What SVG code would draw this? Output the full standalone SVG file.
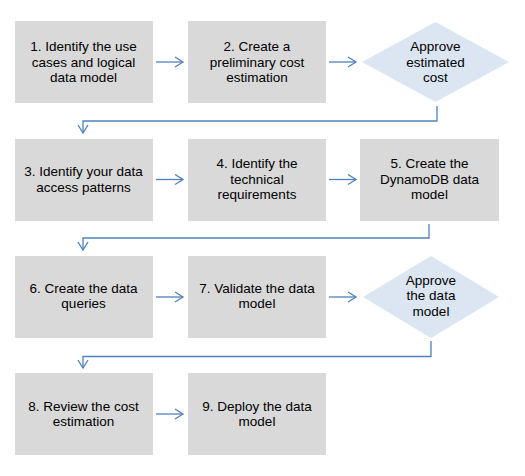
<svg xmlns="http://www.w3.org/2000/svg" width="525" height="476" viewBox="0 0 525 476">
<style>
.box{fill:#d9d9d9}
.dia{fill:#dce6f2}
.t{font-family:"Liberation Sans",Arial,sans-serif;font-size:13.5px;fill:#000;text-anchor:middle}
.c{fill:none;stroke:#4f81bd;stroke-width:1.3}
</style>
<defs>
<marker id="ah" markerUnits="userSpaceOnUse" markerWidth="12" markerHeight="14" refX="9" refY="6" orient="auto">
<path d="M1,1 L9,6 L1,11" fill="none" stroke="#4f81bd" stroke-width="1.3"/>
</marker>
</defs>
<rect width="525" height="476" fill="#fff"/>
<g id="connectors">
<path class="c" d="M156,62 H183" marker-end="url(#ah)"/>
<path class="c" d="M329,62 H356" marker-end="url(#ah)"/>
<path class="c" d="M437,106 V121 H83 V133" marker-end="url(#ah)"/>
<path class="c" d="M156,179.5 H183" marker-end="url(#ah)"/>
<path class="c" d="M329,179.5 H356" marker-end="url(#ah)"/>
<path class="c" d="M429,224 V238 H83 V250" marker-end="url(#ah)"/>
<path class="c" d="M156,297 H183" marker-end="url(#ah)"/>
<path class="c" d="M329,297 H356" marker-end="url(#ah)"/>
<path class="c" d="M431,341 V356.5 H83 V368" marker-end="url(#ah)"/>
<path class="c" d="M156,414 H183" marker-end="url(#ah)"/>
</g>
<g id="n1"><rect class="box" x="15" y="21" width="138" height="82"/>
<text class="t"><tspan x="83.5" y="51">1. Identify the use</tspan><tspan x="83.5" y="66.7">cases and logical</tspan><tspan x="83.5" y="82.4">data model</tspan></text></g>
<g id="n2"><rect class="box" x="188" y="21" width="138" height="82"/>
<text class="t"><tspan x="257" y="51">2. Create a</tspan><tspan x="257" y="66.7">preliminary cost</tspan><tspan x="257" y="82.4">estimation</tspan></text></g>
<g id="d1"><polygon class="dia" points="435.5,22 509,62 435.5,102 362,62"/>
<text class="t"><tspan x="435.5" y="51">Approve</tspan><tspan x="435.5" y="66.7">estimated</tspan><tspan x="435.5" y="82.4">cost</tspan></text></g>
<g id="n3"><rect class="box" x="15" y="139" width="138" height="82"/>
<text class="t"><tspan x="83.5" y="176">3. Identify your data</tspan><tspan x="83.5" y="191.7">access patterns</tspan></text></g>
<g id="n4"><rect class="box" x="188" y="139" width="138" height="82"/>
<text class="t"><tspan x="257" y="168">4. Identify the</tspan><tspan x="257" y="183.7">technical</tspan><tspan x="257" y="199.4">requirements</tspan></text></g>
<g id="n5"><rect class="box" x="360" y="139" width="139" height="82"/>
<text class="t"><tspan x="429.5" y="168">5. Create the</tspan><tspan x="429.5" y="183.7">DynamoDB data</tspan><tspan x="429.5" y="199.4">model</tspan></text></g>
<g id="n6"><rect class="box" x="15" y="256" width="138" height="82"/>
<text class="t"><tspan x="83.5" y="292.5">6. Create the data</tspan><tspan x="83.5" y="308.2">queries</tspan></text></g>
<g id="n7"><rect class="box" x="188" y="256" width="138" height="82"/>
<text class="t"><tspan x="257" y="292.5">7. Validate the data</tspan><tspan x="257" y="308.2">model</tspan></text></g>
<g id="d2"><polygon class="dia" points="431,256 499,297 431,338 363,297"/>
<text class="t"><tspan x="431" y="284.5">Approve</tspan><tspan x="431" y="300.2">the data</tspan><tspan x="431" y="315.9">model</tspan></text></g>
<g id="n8"><rect class="box" x="15" y="373" width="138" height="82"/>
<text class="t"><tspan x="83.5" y="410.5">8. Review the cost</tspan><tspan x="83.5" y="426.2">estimation</tspan></text></g>
<g id="n9"><rect class="box" x="188" y="373" width="138" height="82"/>
<text class="t"><tspan x="257" y="410.5">9. Deploy the data</tspan><tspan x="257" y="426.2">model</tspan></text></g>
</svg>
